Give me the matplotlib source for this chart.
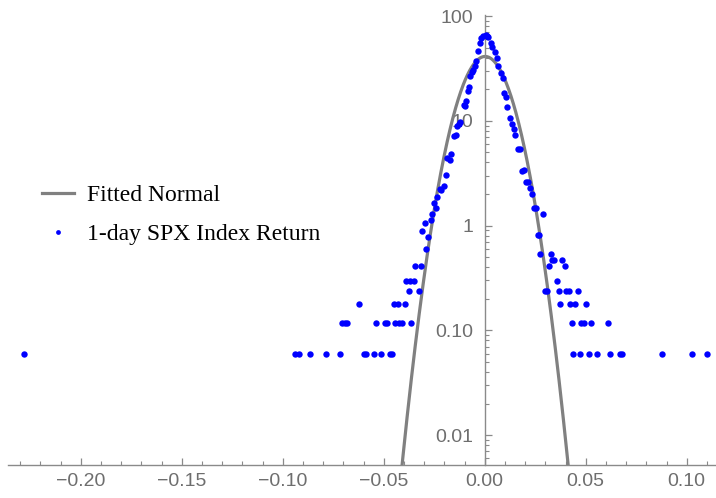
import numpy as np
import matplotlib
matplotlib.use("Agg")
import matplotlib.pyplot as plt
from matplotlib.ticker import FixedLocator, FixedFormatter, LogLocator, MultipleLocator, NullFormatter

# histogram of 1-day SPX returns (bin centre, density)
returns = [
    -0.2282, -0.0941, -0.0919, -0.0866, -0.0787, -0.0714, -0.0705, -0.0690,
    -0.0682, -0.0624, -0.0599, -0.0589, -0.0550, -0.0540, -0.0511, -0.0495,
    -0.0484, -0.0467, -0.0457, -0.0450, -0.0442, -0.0428, -0.0424, -0.0409,
    -0.0396, -0.0388, -0.0376, -0.0368, -0.0366, -0.0349, -0.0345, -0.0327,
    -0.0317, -0.0308, -0.0297, -0.0289, -0.0281, -0.0267, -0.0259, -0.0252,
    -0.0243, -0.0234, -0.0223, -0.0214, -0.0203, -0.0193, -0.0185, -0.0173,
    -0.0165, -0.0153, -0.0142, -0.0135, -0.0129, -0.0120, -0.0104, -0.0097,
    -0.0091, -0.0083, -0.0079, -0.0071, -0.0064, -0.0058, -0.0050, -0.0041,
    -0.0031, -0.0021, -0.0016, -0.0008, 0.0005, 0.0013, 0.0018, 0.0030,
    0.0038, 0.0050, 0.0059, 0.0068, 0.0080, 0.0090, 0.0096, 0.0103,
    0.0112, 0.0124, 0.0133, 0.0143, 0.0152, 0.0163, 0.0173, 0.0183,
    0.0193, 0.0202, 0.0214, 0.0223, 0.0233, 0.0243, 0.0255, 0.0262,
    0.0269, 0.0276, 0.0287, 0.0297, 0.0308, 0.0317, 0.0327, 0.0333,
    0.0343, 0.0356, 0.0366, 0.0375, 0.0385, 0.0396, 0.0404, 0.0416,
    0.0424, 0.0434, 0.0437, 0.0449, 0.0460, 0.0470, 0.0479, 0.0490,
    0.0500, 0.0518, 0.0528, 0.0558, 0.0612, 0.0622, 0.0672, 0.0682,
    0.0876, 0.1028, 0.1099,
]
density = [
    0.059, 0.059, 0.059, 0.059, 0.059, 0.059, 0.118, 0.118,
    0.118, 0.177, 0.059, 0.059, 0.059, 0.118, 0.059, 0.118,
    0.118, 0.059, 0.059, 0.177, 0.118, 0.177, 0.118, 0.118,
    0.177, 0.295, 0.236, 0.295, 0.118, 0.295, 0.413, 0.236,
    0.413, 0.89, 1.05, 0.60, 0.77, 1.13, 1.29, 1.64,
    1.48, 1.88, 2.25, 2.2, 2.36, 3.05, 4.4, 4.2,
    4.8, 7.2, 7.3, 9.0, 9.4, 9.8, 14.1, 13.8,
    15.4, 19.2, 21.1, 26.6, 29.0, 30.5, 33.4, 37.5,
    46.3, 55.2, 61.2, 64.4, 65.9, 64.4, 63.5, 55.6,
    50.5, 45.0, 39.5, 33.4, 28.3, 25.8, 18.5, 16.7,
    13.4, 10.7, 9.4, 8.3, 7.3, 5.4, 5.4, 3.3,
    3.4, 2.6, 2.6, 2.29, 2.02, 1.48, 1.48, 0.82,
    0.82, 0.53, 1.29, 0.236, 0.236, 0.413, 0.53, 0.47,
    0.47, 0.295, 0.236, 0.177, 0.47, 0.413, 0.236, 0.236,
    0.177, 0.118, 0.059, 0.177, 0.236, 0.059, 0.118, 0.118,
    0.177, 0.059, 0.118, 0.059, 0.118, 0.059, 0.059, 0.059,
    0.059, 0.059, 0.059,
]

# fitted normal parameters
mu = 0.0002
sigma = 0.0097

x_ticks = [-0.20, -0.15, -0.10, -0.05, 0.00, 0.05, 0.10]
x_tick_labels = ["\u22120.20", "\u22120.15", "\u22120.10", "\u22120.05", "0.00", "0.05", "0.10"]
y_ticks = [0.01, 0.1, 1, 10, 100]
y_tick_labels = ["0.01", "0.10", "1", "10", "100"]

axis_grey = "#8a8a8a"
label_grey = "#6e6e6e"

fig = plt.figure(figsize=(7.16, 4.98), dpi=100)
ax = fig.add_axes([8 / 716, 33 / 498, 708 / 716, 450 / 498])

xs = np.linspace(-0.236, 0.1145, 2000)
pdf = np.exp(-(xs - mu) ** 2 / (2 * sigma ** 2)) / (sigma * np.sqrt(2 * np.pi))
ax.plot(xs, pdf, color="#808080", lw=2.3, label="Fitted Normal", zorder=2)
ax.plot(returns, density, ls="none", marker="o", ms=4.6, color="#0000ff",
        markeredgewidth=0, label="1-day SPX Index Return", zorder=3)

ax.set_yscale("log")
ax.set_xlim(-0.236, 0.1145)
ax.set_ylim(10 ** -2.286, 10 ** 2.01)

for s in ["top", "right"]:
    ax.spines[s].set_visible(False)
ax.spines["left"].set_position(("data", 0))
ax.spines["left"].set_color(axis_grey)
ax.spines["bottom"].set_color(axis_grey)
ax.spines["left"].set_linewidth(1.0)
ax.spines["bottom"].set_linewidth(1.0)

ax.xaxis.set_major_locator(FixedLocator(x_ticks))
ax.xaxis.set_major_formatter(FixedFormatter(x_tick_labels))
ax.xaxis.set_minor_locator(MultipleLocator(0.01))
ax.yaxis.set_major_locator(FixedLocator(y_ticks))
ax.yaxis.set_major_formatter(FixedFormatter(y_tick_labels))
ax.yaxis.set_minor_locator(LogLocator(base=10, subs=np.arange(2, 10)))
ax.yaxis.set_minor_formatter(NullFormatter())

ax.tick_params(axis="x", which="major", direction="in", length=5, width=0.9,
               color=axis_grey, labelcolor=label_grey, pad=6)
ax.tick_params(axis="x", which="minor", direction="in", length=2.8, width=0.8,
               color=axis_grey)
ax.tick_params(axis="y", which="major", direction="in", length=5, width=0.9,
               color=axis_grey, labelcolor=label_grey, pad=8)
ax.tick_params(axis="y", which="minor", direction="in", length=2.8, width=0.8,
               color=axis_grey)
for lab in ax.get_xticklabels() + ax.get_yticklabels():
    lab.set_fontfamily(["Liberation Sans", "DejaVu Sans"])
    lab.set_fontsize(14)

ax.legend(loc="center left", bbox_to_anchor=(42 / 716, 1 - 215 / 498),
          bbox_transform=fig.transFigure, frameon=False, borderpad=0,
          borderaxespad=0, handlelength=1.36, handletextpad=0.55,
          labelspacing=0.75, markerscale=0.75,
          prop={"family": ["Liberation Serif", "DejaVu Serif"], "size": 17})

fig.savefig("out.png", dpi=100)
